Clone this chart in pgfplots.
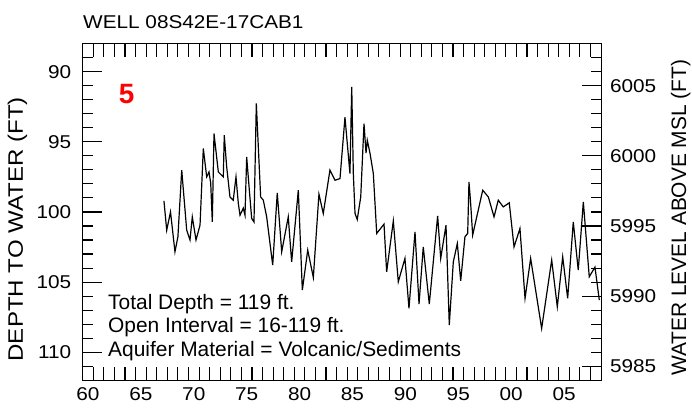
\documentclass[border=0pt]{standalone}
\usepackage{fontspec}
\setmainfont{Liberation Sans}
\newfontfamily\wide[FakeStretch=1.12]{Liberation Sans}
\newfontfamily\wider[FakeStretch=1.15]{Liberation Sans}
\usepackage{pgfplots}
\usepackage{pgfplotstable}
\pgfplotsset{compat=1.18}

\pgfplotstableread{
year depth
1967.68 99.21
1967.94 101.30
1968.30 100.00
1968.72 102.84
1969.00 101.77
1969.36 97.02
1969.83 101.30
1970.14 102.00
1970.36 100.35
1970.71 102.00
1971.09 100.94
1971.40 95.48
1971.72 97.50
1971.94 97.15
1972.10 97.95
1972.25 100.71
1972.41 94.41
1972.82 97.15
1973.29 97.50
1973.38 94.53
1973.61 96.79
1973.92 98.93
1974.23 99.16
1974.49 97.50
1974.71 99.40
1974.87 100.23
1975.18 99.73
1975.34 100.23
1975.50 96.08
1975.72 98.16
1975.97 100.46
1976.19 100.71
1976.41 92.27
1976.60 95.36
1976.82 98.93
1977.07 99.16
1977.39 100.35
1977.96 103.79
1978.39 98.64
1978.81 102.84
1979.43 100.35
1979.75 103.56
1980.38 98.45
1980.76 105.57
1981.27 102.72
1981.80 104.67
1982.33 98.73
1982.74 100.11
1983.37 97.02
1983.85 97.74
1984.32 97.62
1984.79 93.25
1985.26 97.26
1985.43 91.09
1985.58 97.26
1985.74 100.11
1985.95 100.54
1986.28 98.93
1986.59 93.70
1986.78 95.81
1986.90 94.89
1987.16 95.83
1987.47 97.26
1987.79 101.53
1988.48 100.87
1988.73 104.27
1989.36 100.64
1989.83 104.98
1990.46 103.31
1990.84 106.87
1991.41 101.42
1991.79 106.57
1992.19 102.49
1992.76 106.57
1993.55 100.28
1993.84 103.31
1994.34 100.94
1994.65 108.06
1995.03 103.56
1995.41 102.25
1995.73 104.91
1996.13 101.77
1996.39 101.53
1996.51 97.86
1996.65 99.16
1996.86 101.65
1997.81 98.45
1998.34 98.93
1998.88 100.35
1999.28 99.16
1999.75 99.64
2000.32 99.35
2000.77 102.49
2001.33 101.18
2001.81 106.16
2002.34 103.31
2003.38 108.30
2004.33 103.43
2004.86 106.76
2005.37 103.20
2005.84 106.16
2006.37 100.71
2006.84 104.15
2007.32 99.28
2007.88 104.62
2008.42 103.93
2008.83 106.28
}\welldata

\begin{document}
\begin{tikzpicture}
\pgfplotsset{
  common/.style={
    scale only axis, width=518.4bp, height=336.7bp,
    at={(0,0)}, anchor=south west,
    xmin=1960, xmax=2009,
    axis line style={line width=1.2bp, black},
    tick style={line width=1.1bp, black},
    tick align=inside,
  },
  tlab/.style={font=\wide\fontsize{18.6}{18.6}\selectfont},
}
% left y axis
\begin{axis}[common, ymin=88, ymax=112, y dir=reverse,
  xtick=\empty,
  ytick={90,95,100,105,110}, yticklabels={90,95,100,105,110},
  minor ytick={89,...,111},
  ytick pos=left,
  major tick length=19bp, minor tick length=10bp,
  yticklabel style={tlab, xshift=-8bp}]
\end{axis}
% right y axis
\begin{axis}[common, ymin=5984, ymax=6008,
  xtick=\empty,
  ytick={5985,5990,5995,6000,6005}, yticklabels={5985,5990,5995,6000,6005},
  minor ytick={5985,...,6007},
  ytick pos=right, yticklabel pos=right,
  major tick length=19bp, minor tick length=10bp,
  yticklabel style={tlab, xshift=5.5bp}]
\end{axis}
% data and x axis
\begin{axis}[common, ymin=88, ymax=112, y dir=reverse,
  ytick=\empty,
  xtick={1960.5,1965.5,1970.5,1975.5,1980.5,1985.5,1990.5,1995.5,2000.5,2005.5},
  xticklabels={60,65,70,75,80,85,90,95,00,05},
  minor xtick={1961,...,2008},
  xtick pos=both, xticklabel pos=lower,
  major tick length=0pt, minor tick length=13bp,
  xticklabel style={tlab, yshift=-4bp}]
\addplot[black, line width=1.2bp] table[x=year, y=depth]{\welldata};
\end{axis}

\node[anchor=base west, inner sep=0, font=\wide\fontsize{18.6}{18.6}\selectfont] at (0.3bp,351.7bp) {WELL 08S42E-17CAB1};
\node[inner sep=0, text=red, font=\bfseries\fontsize{28}{28}\selectfont] at (44bp,286bp) {5};
\node[anchor=base west, inner sep=0, font=\fontsize{21}{21}\selectfont] at (25.3bp,71bp) {Total Depth = 119 ft.};
\node[anchor=base west, inner sep=0, font=\fontsize{21}{21}\selectfont] at (25.3bp,47.7bp) {Open Interval = 16-119 ft.};
\node[anchor=base west, inner sep=0, font=\fontsize{21}{21}\selectfont] at (25.3bp,24.3bp) {Aquifer Material = Volcanic/Sediments};
\node[rotate=90, inner sep=0, font=\wider\fontsize{21}{21}\selectfont] at (-65.2bp,151bp) {DEPTH TO WATER (FT)};
\node[rotate=90, inner sep=0, font=\fontsize{21}{21}\selectfont] at (598bp,162.5bp) {WATER LEVEL ABOVE MSL (FT)};

\path[use as bounding box] (-82.7bp,-29bp) rectangle (609.3bp,380.3bp);
\end{tikzpicture}
\end{document}
